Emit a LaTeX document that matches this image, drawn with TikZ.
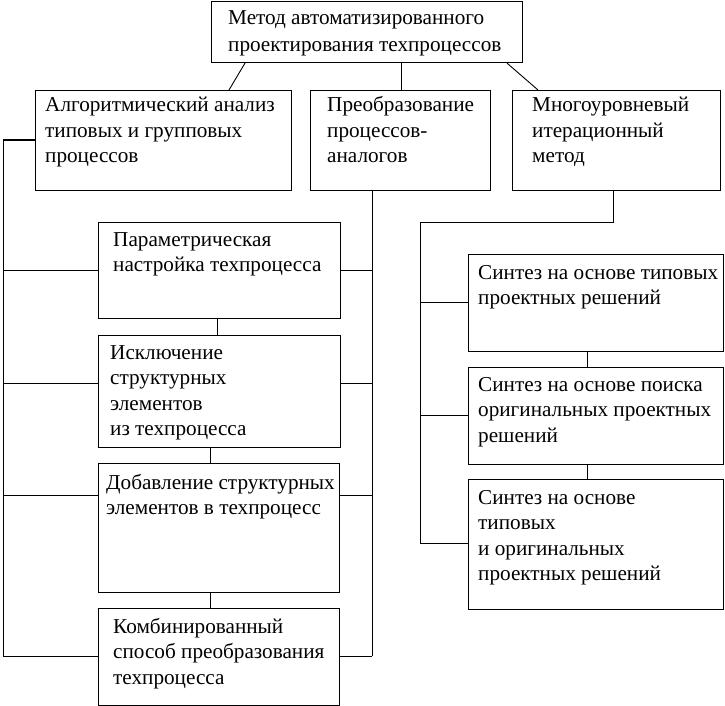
\documentclass[tikz,border=0pt]{standalone}
\usepackage{fontspec}
\setmainfont{Liberation Serif}
\usetikzlibrary{calc}
\newcommand{\mylines}[1]{\begin{tabular}[t]{@{}l@{}}#1\end{tabular}}
\begin{document}
\begin{tikzpicture}[x=1pt,y=-1pt,
  boxst/.style={draw, line width=1.1pt, rectangle, inner sep=0pt, anchor=north west},
  txt/.style={font=\fontsize{21.2}{25.5}\selectfont, inner sep=0pt, anchor=base west},
  conn/.style={line width=0.9pt}]
\useasboundingbox (0,0) rectangle (725,706);
% boxes
\node[boxst, minimum width=311pt, minimum height=61pt] (top) at (211,1) {};
\node[boxst, minimum width=256pt, minimum height=100pt] (b1) at (35,90) {};
\node[boxst, minimum width=180pt, minimum height=100pt] (b2) at (310,90) {};
\node[boxst, minimum width=208pt, minimum height=100pt] (b3) at (512,90) {};
\node[boxst, minimum width=242pt, minimum height=96pt] (p1) at (98,222) {};
\node[boxst, minimum width=242pt, minimum height=112pt] (p2) at (98,335) {};
\node[boxst, minimum width=241pt, minimum height=129pt] (p3) at (98,463) {};
\node[boxst, minimum width=241pt, minimum height=97pt] (p4) at (98,608) {};
\node[boxst, minimum width=255pt, minimum height=97pt] (s1) at (468,254) {};
\node[boxst, minimum width=255pt, minimum height=97pt] (s2) at (468,367) {};
\node[boxst, minimum width=255pt, minimum height=130pt] (s3) at (468,479) {};
% texts
\node[txt, font=\fontsize{21.2}{27}\selectfont] (ttop) at (228,25) {\mylines{Метод автоматизированного\\проектирования техпроцессов}};
\node[txt] (tb1) at (45,112) {\mylines{Алгоритмический анализ\\типовых и групповых\\процессов}};
\node[txt] (tb2) at (327,112) {\mylines{Преобразование\\процессов-\\аналогов}};
\node[txt] (tb3) at (532,112) {\mylines{Многоуровневый\\итерационный\\метод}};
\node[txt] (tp1) at (113,246) {\mylines{Параметрическая\\настройка техпроцесса}};
\node[txt] (tp2) at (110,359) {\mylines{Исключение\\структурных\\элементов\\из техпроцесса}};
\node[txt] (tp3) at (106,489) {\mylines{Добавление структурных\\элементов в техпроцесс}};
\node[txt] (tp4) at (113,633) {\mylines{Комбинированный\\способ преобразования\\техпроцесса}};
\node[txt] (ts1) at (478,279) {\mylines{Синтез на основе типовых\\проектных решений}};
\node[txt] (ts2) at (478,391) {\mylines{Синтез на основе поиска\\оригинальных проектных\\решений}};
\node[txt] (ts3) at (478,504) {\mylines{Синтез на основе\\типовых\\и оригинальных\\проектных решений}};
% bus coordinates
\coordinate (lb0) at (3,140);
\coordinate (lb1) at (3,270);
\coordinate (lb2) at (3,383);
\coordinate (lb3) at (3,495);
\coordinate (lb4) at (3,656);
\coordinate (mb1) at (372,270);
\coordinate (mb2) at (372,383);
\coordinate (mb3) at (372,495);
\coordinate (mb4) at (372,656);
\coordinate (rbk) at (613,222);
\coordinate (rb0) at (420,222);
\coordinate (rb1) at (420,302);
\coordinate (rb2) at (420,415);
\coordinate (rb3) at (420,543);
% top connectors
\draw[conn] ($(top.south west)+(34,0)$) -- ($(b1.north west)+(194,0)$);
\draw[conn] (top.south -| b2.north) ++(1,0) coordinate (tm) -- (tm |- b2.north);
\draw[conn] ($(top.south west)+(296,0)$) -- ($(b3.north west)+(26,0)$);
% left bus
\draw[line width=1.5pt] (b1.west |- lb0) -- (lb0);
\draw[conn] (lb0) -- (lb4);
\draw[conn] (lb1) -- (p1.west |- lb1);
\draw[conn] (lb2) -- (p2.west |- lb2);
\draw[conn] (lb3) -- (p3.west |- lb3);
\draw[conn] (lb4) -- (p4.west |- lb4);
% middle bus
\draw[conn] (b2.south -| mb1) -- (mb4);
\draw[conn] (p1.east |- mb1) -- (mb1);
\draw[conn] (p2.east |- mb2) -- (mb2);
\draw[conn] (p3.east |- mb3) -- (mb3);
\draw[conn] (p4.east |- mb4) -- (mb4);
% left column links
\draw[conn] (p1.south -| 217,0) -- (p2.north -| 217,0);
\draw[conn] (p2.south -| 210,0) -- (p3.north -| 210,0);
\draw[conn] (p3.south -| 210,0) -- (p4.north -| 210,0);
% right bus
\draw[conn] (b3.south -| rbk) -- (rbk) -- (rb0) -- (rb3);
\draw[conn] (rb1) -- (s1.west |- rb1);
\draw[conn] (rb2) -- (s2.west |- rb2);
\draw[conn] (rb3) -- (s3.west |- rb3);
\draw[conn] (s1.south -| 587,0) -- (s2.north -| 587,0);
\draw[conn] (s2.south -| 587,0) -- (s3.north -| 587,0);
\end{tikzpicture}
\end{document}
